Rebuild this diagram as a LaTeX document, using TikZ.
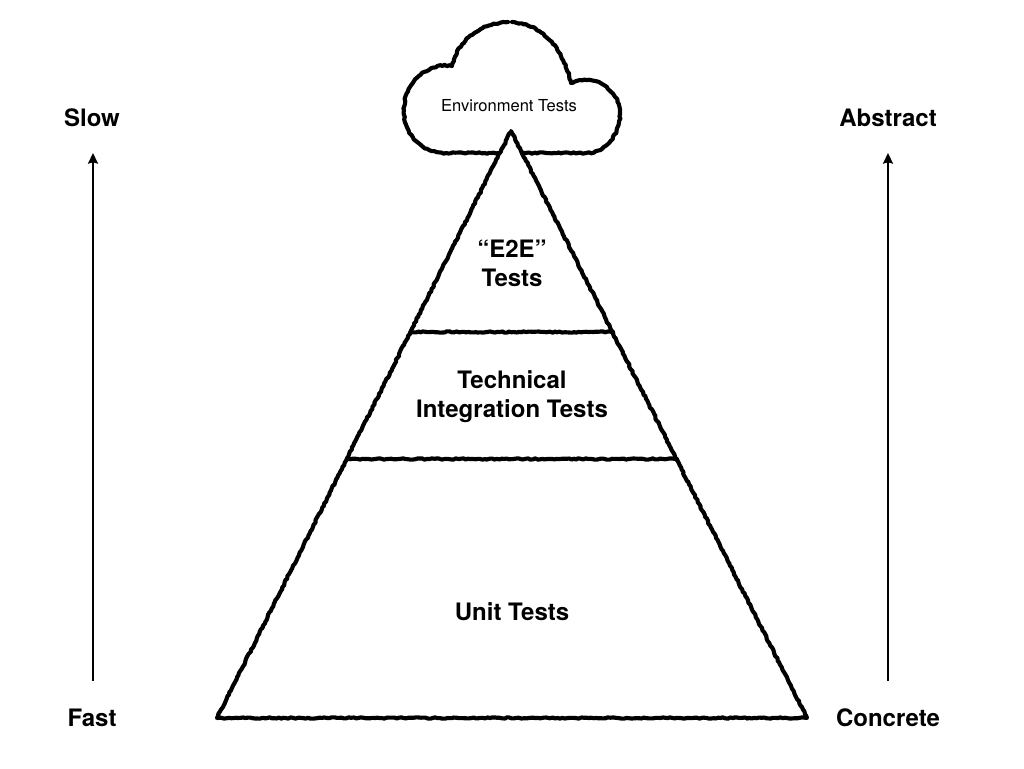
\documentclass[tikz,border=0pt]{standalone}
\usepackage{fontspec}
\setmainfont{TeX Gyre Heros}
\usetikzlibrary{decorations.pathmorphing,arrows.meta}
\pgfmathsetseed{7}
\tikzset{
  x=0.75pt,y=-0.75pt,
  sketch/.style={line width=3.1pt,black,line join=round,line cap=round,
    decorate,decoration={random steps,segment length=1.8pt,amplitude=0.5pt}},
  biglabel/.style={font=\fontsize{18}{21.6}\selectfont\bfseries,align=center,inner sep=0pt,text=black},
  smalllabel/.style={font=\fontsize{12.4}{14}\selectfont,align=center,inner sep=0pt,text=black},
  axis/.style={line width=1.2pt,black,-{Stealth[length=8pt,width=7.5pt,inset=1pt]}}
}
\begin{document}
\begin{tikzpicture}
\useasboundingbox (0,0) rectangle (1024,768);
% cloud
\draw[sketch,fill=white] (508,22)
  .. controls (480,23) and (458,40) .. (452,66)
  .. controls (426,62) and (404,84) .. (404,110)
  .. controls (404,134) and (420,153) .. (446,153)
  -- (586,153)
  .. controls (606,153) and (620,134) .. (620,114)
  .. controls (620,90) and (594,72) .. (571,83)
  .. controls (563,50) and (545,25) .. (512,22);
% pyramid
\coordinate (apex) at (511,131);
\coordinate (bl) at (217,718);
\coordinate (br) at (807,718);
\coordinate (l1) at (411,332);
\coordinate (r1) at (613,332);
\coordinate (l2) at (348,459);
\coordinate (r2) at (677,459);
\draw[sketch,fill=white] (apex) -- (br) -- (bl) -- cycle;
\draw[sketch] (l1) -- (r1);
\draw[sketch] (l2) -- (r2);
% labels
\node[smalllabel] (env) at (509,105.5) {Environment Tests};
\node[biglabel] (e2e) at (512,263.5) {“E2E”\\Tests};
\node[biglabel] (tech) at (512,397) {Technical\\Integration Tests};
\node[biglabel] (unit) at (512,612) {Unit Tests};
\node[biglabel] (slow) at (92,118) {Slow};
\node[biglabel] (fast) at (92,718) {Fast};
\node[biglabel] (abstract) at (888,118) {Abstract};
\node[biglabel] (concrete) at (888,718) {Concrete};
% arrows
\coordinate (fastTop) at (93,681);
\coordinate (slowBot) at (93,153);
\coordinate (concTop) at (888,681);
\coordinate (absBot) at (888,153);
\draw[axis] (fastTop) -- (slowBot);
\draw[axis] (concTop) -- (absBot);
\end{tikzpicture}
\end{document}
